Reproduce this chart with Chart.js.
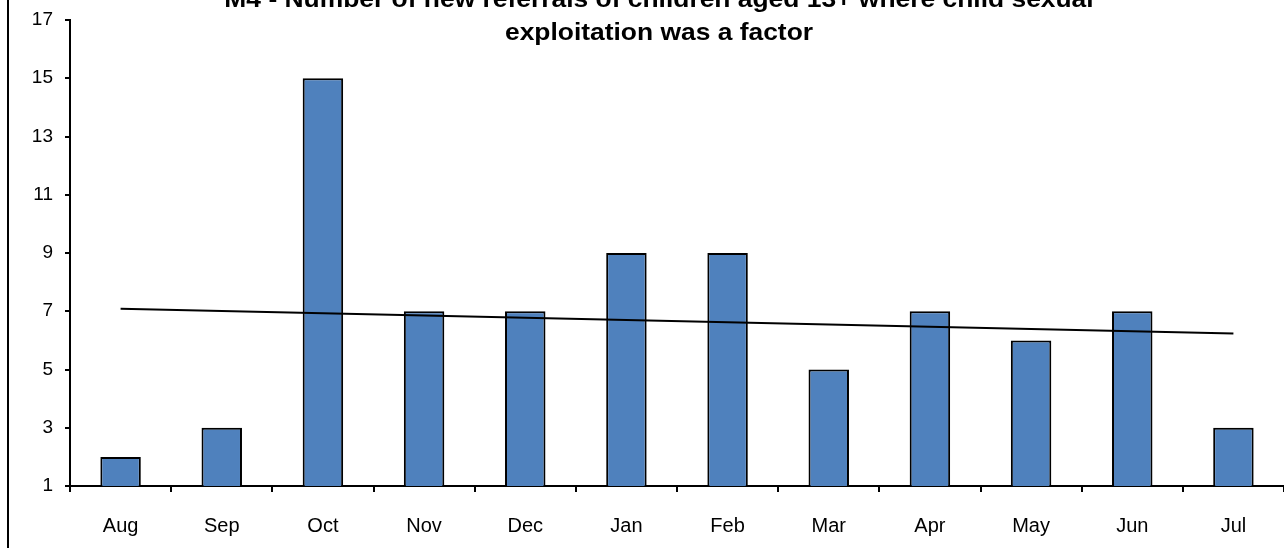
<!DOCTYPE html>
<html>
<head>
<meta charset="utf-8">
<script src="https://cdn.jsdelivr.net/npm/chart.js@4/dist/chart.umd.min.js"></script>
<style>
  body { margin: 0; background: #fff; overflow: hidden; }
  #wrap { position: relative; width: 1284px; height: 548px; }
  #edge { position: absolute; left: 7px; top: 0; width: 2px; height: 548px; background: #000; }
</style>
</head>
<body>
<div id="wrap">
  <canvas id="myChart" width="1284" height="548"></canvas>
  <div id="edge"></div>
</div>
<script>
const months = ["Aug", "Sep", "Oct", "Nov", "Dec", "Jan", "Feb", "Mar", "Apr", "May", "Jun", "Jul"];
const referrals = [2, 3, 15, 7, 7, 9, 9, 5, 7, 6, 7, 3];
// trend line end points
const trend = [7.09, null, null, null, null, null, null, null, null, null, null, 6.24];
const titleLines = [
  "M4 - Number of new referrals of children aged 13+ where child sexual",
  "exploitation was a factor"
];

const font = "'Liberation Sans', Arial, sans-serif";

// title is drawn by hand so it can overlap the plot like the original
const titlePlugin = {
  id: "titleText",
  afterDraw(chart) {
    const ctx = chart.ctx;
    ctx.save();
    ctx.fillStyle = "#000";
    ctx.font = "bold 24px " + font;
    ctx.textAlign = "center";
    ctx.textBaseline = "alphabetic";
    // the original text is a bit wider than it is tall
    ctx.translate(659, 0);
    ctx.scale(1.1, 1);
    ctx.fillText(titleLines[0], 0, 7);
    ctx.fillText(titleLines[1], 0, 40);
    ctx.restore();
  }
};

new Chart("myChart", {
  type: "bar",
  data: {
    labels: months,
    datasets: [
      {
        type: "line",
        data: trend,
        spanGaps: true,
        borderColor: "#000",
        borderWidth: 2,
        pointRadius: 0,
        fill: false,
        order: 0
      },
      {
        data: referrals,
        backgroundColor: "#4F81BD",
        borderColor: "#000",
        borderWidth: 2,
        borderSkipped: false,
        barPercentage: 0.4,
        categoryPercentage: 1,
        order: 1
      }
    ]
  },
  options: {
    responsive: false,
    animation: false,
    layout: { padding: { top: 20, right: 0, bottom: 0, left: 0 } },
    plugins: {
      legend: { display: false },
      title: { display: false },
      tooltip: { enabled: false }
    },
    scales: {
      x: {
        grid: { display: true, drawOnChartArea: false, drawTicks: true, tickLength: 6, color: "#000", lineWidth: 2, offset: true },
        border: { display: true, color: "#000", width: 2 },
        ticks: { color: "#000", font: { family: font, size: 20 }, padding: 22, maxRotation: 0 },
        afterFit(scale) { scale.height = 62; }
      },
      y: {
        min: 1,
        max: 17,
        grid: { display: true, drawOnChartArea: false, drawTicks: true, tickLength: 5, color: "#000", lineWidth: 2 },
        border: { display: true, color: "#000", width: 2 },
        ticks: { stepSize: 2, color: "#000", font: { family: font, size: 19 }, padding: 12 },
        afterFit(scale) {
          scale.width = 70;
          scale.paddingTop = 8;
        }
      }
    }
  },
  plugins: [titlePlugin]
});
</script>
</body>
</html>
